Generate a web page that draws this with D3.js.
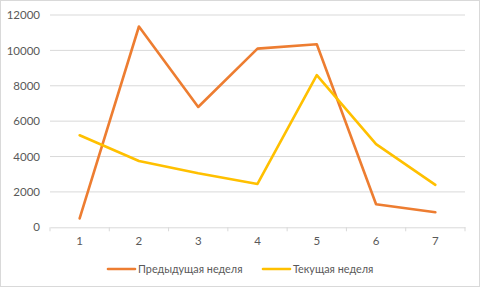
<!DOCTYPE html>
<html><head><meta charset="utf-8">
<script src="https://cdn.jsdelivr.net/npm/d3@7"></script>
<style>html,body{margin:0;padding:0;background:#fff;}svg{display:block;}</style>
</head><body>
<script>
const categories = ["1","2","3","4","5","6","7"];
const prevWeek = [500, 11350, 6800, 10100, 10350, 1300, 850];
const currWeek = [5200, 3750, 3050, 2450, 8600, 4700, 2400];
const yTicks = [0, 2000, 4000, 6000, 8000, 10000, 12000];
const seriesNames = ["Предыдущая неделя", "Текущая неделя"];
const seriesColors = ["#ED7D31", "#FFC000"];

(function(){
const W = 480, H = 289;
const svg = d3.select("body").append("svg").attr("width", W).attr("height", H);
svg.append("rect").attr("x",0.5).attr("y",0.5).attr("width",W-1).attr("height",H-3)
  .attr("fill","#fff").attr("stroke","#d9d9d9");

const mLeft = 50, mRight = 465, mTop = 15, mBottom = 227.3;
const x = d3.scaleBand().domain(categories).range([mLeft, mRight]);
const y = d3.scaleLinear().domain([0, 12000]).range([mBottom, mTop]);

const font = "Lato, 'Open Sans', sans-serif";
const textColor = "#595959";

svg.append("g").selectAll("line").data(yTicks.filter(d=>d>0)).join("line")
  .attr("x1", mLeft).attr("x2", mRight)
  .attr("y1", d=>y(d)).attr("y2", d=>y(d))
  .attr("stroke", "#d9d9d9").attr("stroke-width", 1);

const yAxis = d3.axisLeft(y).tickValues(yTicks).tickSize(0).tickPadding(10).tickFormat(d3.format("d"));
const gy = svg.append("g").attr("transform", `translate(${mLeft},0)`).call(yAxis);
gy.select(".domain").remove();
gy.selectAll("text").attr("font-family", font).attr("font-size", 11.5).attr("fill", textColor);

const xAxis = d3.axisBottom(x).tickSize(0).tickPadding(10);
const gx = svg.append("g").attr("transform", `translate(0,${mBottom})`).call(xAxis);
gx.select(".domain").attr("stroke", "#d9d9d9");
gx.selectAll("text").attr("font-family", font).attr("font-size", 11.5).attr("fill", textColor);
const bounds = categories.map(c => x(c)).concat([x.range()[1]]);
svg.append("g").selectAll("line").data(bounds).join("line")
  .attr("x1", d=>d).attr("x2", d=>d).attr("y1", mBottom).attr("y2", mBottom+4)
  .attr("stroke", "#d9d9d9");

const line = d3.line().x((d,i)=>x(categories[i]) + x.bandwidth()/2).y(d=>y(d));
[prevWeek, currWeek].forEach((s, i) => {
  svg.append("path").datum(s).attr("d", line).attr("fill","none")
    .attr("stroke", seriesColors[i]).attr("stroke-width", 2.6)
    .attr("stroke-linejoin","round").attr("stroke-linecap","round");
});

const legendX = [108, 263];
legendX.forEach((lx, i) => {
  const g = svg.append("g").attr("transform", `translate(${lx},269)`);
  g.append("line").attr("x1",0).attr("x2",27).attr("y1",0).attr("y2",0)
    .attr("stroke", seriesColors[i]).attr("stroke-width", 2.6).attr("stroke-linecap","round");
  g.append("text").attr("x",30).attr("y",4).text(seriesNames[i])
    .attr("font-family", font).attr("font-size", 10.8).attr("fill", textColor);
});
})();
</script>
</body></html>
